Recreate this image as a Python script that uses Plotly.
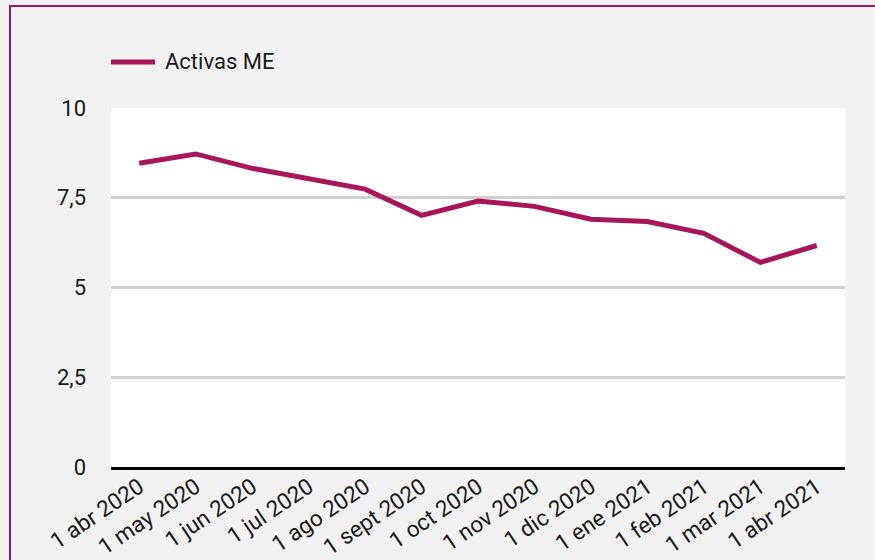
import plotly.graph_objects as go

categories = ["1 abr 2020", "1 may 2020", "1 jun 2020", "1 jul 2020", "1 ago 2020",
              "1 sept 2020", "1 oct 2020", "1 nov 2020", "1 dic 2020", "1 ene 2021",
              "1 feb 2021", "1 mar 2021", "1 abr 2021"]
activas_me = [8.46, 8.72, 8.32, 8.04, 7.74, 7.01, 7.41, 7.26, 6.90, 6.84, 6.51, 5.70, 6.17]
y_tickvals = [0, 2.5, 5, 7.5, 10]
y_ticktext = ["0", "2,5", "5", "7,5", "10"]
series_name = "Activas ME"

W, H = 875, 560
L, R, T, B = 111, 30, 108, 93
pw, ph = W - L - R, H - T - B
LINE_COLOR = "#a8155a"

def px_x(p):
    return (p - L) / pw

def px_y(p):
    return 1 + (T - p) / ph

fig = go.Figure()
fig.add_trace(go.Scatter(
    x=categories, y=activas_me, mode="lines", name=series_name,
    line=dict(color=LINE_COLOR, width=5), showlegend=False,
))

fig.update_layout(
    width=W, height=H,
    margin=dict(l=L, r=R, t=T, b=B, autoexpand=False),
    paper_bgcolor="#f2f2f2",
    plot_bgcolor="#ffffff",
    font=dict(family="Roboto", size=22, color="#1a1a1a"),
    xaxis=dict(type="category", range=[-0.5, len(categories) - 0.5], automargin=False,
               showgrid=False, showline=True, linecolor="#000000",
               linewidth=3, tickangle=-34, ticks="", ticklabelstandoff=-5,
               tickfont=dict(size=22.5)),
    yaxis=dict(range=[0, 10], tickvals=y_tickvals, ticktext=y_ticktext, automargin=False,
               showgrid=True, gridcolor="#d0d0d0", gridwidth=2.5, zeroline=False,
               ticks="", ticklabelstandoff=24, tickfont=dict(size=22)),
    shapes=[
        dict(type="rect", xref="paper", yref="paper",
             x0=px_x(10), x1=px_x(900), y0=px_y(600), y1=px_y(6),
             line=dict(color="#a0185a", width=2), fillcolor="rgba(0,0,0,0)",
             layer="above"),
        dict(type="line", xref="paper", yref="paper",
             x0=px_x(111), x1=px_x(155), y0=px_y(62), y1=px_y(62),
             line=dict(color=LINE_COLOR, width=5)),
    ],
    annotations=[
        dict(text=series_name, xref="paper", yref="paper", x=px_x(163), y=px_y(62),
             xanchor="left", yanchor="middle", showarrow=False,
             font=dict(size=22, color="#1a1a1a")),
    ],
)

fig.write_html("out.html", config={"displayModeBar": False},
               post_script="document.body.style.margin='0';")
